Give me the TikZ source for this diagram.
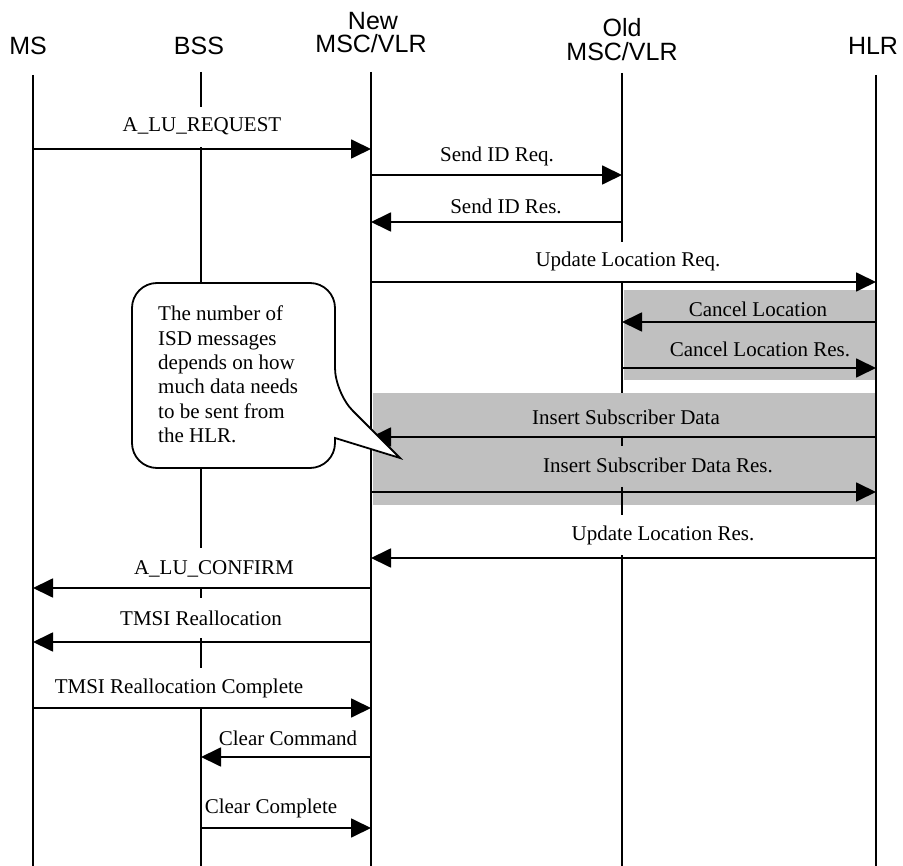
\documentclass[tikz,border=0pt]{standalone}
\usepackage{fontspec}
\setmainfont{Liberation Serif}
\setsansfont{Liberation Sans}
\usetikzlibrary{arrows.meta}

\definecolor{boxgray}{RGB}{192,192,192}

\tikzset{
	hdr/.style={font=\sffamily\fontsize{25}{25}\selectfont, anchor=base, inner sep=0pt},
	lbl/.style={font=\fontsize{21}{24}\selectfont, anchor=base, inner xsep=2pt, minimum height=40pt},
	cover/.style={fill=white},
	life/.style={line width=1.8pt},
	msg/.style={line width=1.8pt, -{Triangle[length=20pt,width=19pt]}},
}

\begin{document}
\begin{tikzpicture}[x=1pt,y=-1pt]
				\path[fill=white,use as bounding box] (0,0) rectangle (903,866);
				% entities
				\node[hdr] (ms) at (28,55) {MS};
				\node[hdr] (bss) at (199,55) {BSS};
				\node[hdr] (newa) at (373,30) {New};
				\node[hdr] (newb) at (371,53) {MSC/VLR};
				\node[hdr] (olda) at (622,37) {Old};
				\node[hdr] (oldb) at (622,61) {MSC/VLR};
				\node[hdr] (hlr) at (873,55) {HLR};
				\coordinate (msl) at (33,75);
				\coordinate (bssl) at (201,72);
				\coordinate (newl) at (371,72);
				\coordinate (oldl) at (622,73);
				\coordinate (hlrl) at (876,75);
				\draw[life] (msl) -- (msl |- 0,866);
				\draw[life] (bssl) -- (bssl |- 0,866);
				\draw[life] (newl) -- (newl |- 0,866);
				\draw[life] (oldl) -- (oldl |- 0,866);
				\draw[life] (hlrl) -- (hlrl |- 0,866);
				% grey parts
				\fill[boxgray] (623.5,290) rectangle (875,380);
				\fill[boxgray] (372.5,393) rectangle (875,505);
				\draw[life] (oldl |- 0,436) -- (oldl |- 0,446);
				\draw[life] (oldl |- 0,487) -- (oldl |- 0,505);
				% rows
				\coordinate (r1) at (0,149);
				\coordinate (r2) at (0,175);
				\coordinate (r3) at (0,222);
				\coordinate (r4) at (0,282);
				\coordinate (r5) at (0,322);
				\coordinate (r6) at (0,368);
				\coordinate (r7) at (0,437);
				\coordinate (r8) at (0,492);
				\coordinate (r9) at (0,558);
				\coordinate (r10) at (0,588);
				\coordinate (r11) at (0,642);
				\coordinate (r12) at (0,708);
				\coordinate (r13) at (0,757);
				\coordinate (r14) at (0,828);
				% labels
				\node[lbl,cover] (t1) at (202,132) {A\_LU\_REQUEST};
				\node[lbl] (t2) at (497,162) {Send ID Req.};
				\node[lbl] (t3) at (506,214) {Send ID Res.};
				\node[lbl,cover] (t4) at (628,267) {Update Location Req.};
				\node[lbl] (t5) at (758,317) {Cancel Location};
				\node[lbl] (t6) at (760,357) {Cancel Location Res.};
				\node[lbl] (t7) at (626,425) {Insert Subscriber Data};
				\node[lbl] (t8) at (658,473) {Insert Subscriber Data Res.};
				\node[lbl,cover] (t9) at (663,540) {Update Location Res.};
				\node[lbl,cover] (t10) at (214,574) {A\_LU\_CONFIRM};
				\node[lbl,cover] (t11) at (201,625) {TMSI Reallocation};
				\node[lbl,cover] (t12) at (179,693) {TMSI Reallocation Complete};
				\node[lbl] (t13) at (288,745) {Clear Command};
				\node[lbl] (t14) at (271,813) {Clear Complete};
				% messages
				\draw[msg] (msl |- r1) -- (newl |- r1);
				\draw[msg] (newl |- r2) -- (oldl |- r2);
				\draw[msg] (oldl |- r3) -- (newl |- r3);
				\draw[msg] (newl |- r4) -- (hlrl |- r4);
				\draw[msg] (hlrl |- r5) -- (oldl |- r5);
				\draw[msg] (oldl |- r6) -- (hlrl |- r6);
				\draw[msg] (hlrl |- r7) -- (newl |- r7);
				\draw[msg] (newl |- r8) -- (hlrl |- r8);
				\draw[msg] (hlrl |- r9) -- (newl |- r9);
				\draw[msg] (newl |- r10) -- (msl |- r10);
				\draw[msg] (newl |- r11) -- (msl |- r11);
				\draw[msg] (msl |- r12) -- (newl |- r12);
				\draw[msg] (newl |- r13) -- (bssl |- r13);
				\draw[msg] (bssl |- r14) -- (newl |- r14);
				% callout
				\draw[line width=1.8pt, fill=white, rounded corners=25pt] (132,283) -- (335,283) -- (335,393) [sharp corners] -- (400,458) -- (335,438) [rounded corners=25pt] -- (335,468) -- (132,468) -- cycle;
				\node[font=\fontsize{21}{24.4}\selectfont, align=left, anchor=north west, inner sep=0pt] (note) at (158,305.7) {The number of\\ISD messages\\depends on how\\much data needs\\to be sent from\\the HLR.};
			\end{tikzpicture}
\end{document}
